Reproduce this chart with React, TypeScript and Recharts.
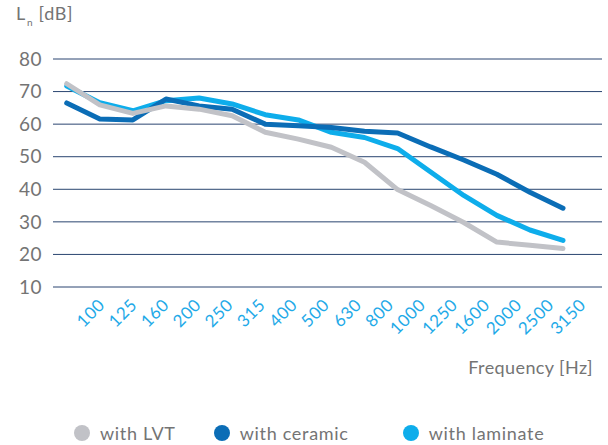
import { LineChart, Line, XAxis, YAxis, CartesianGrid } from "recharts";

const FREQUENCIES = ["100", "125", "160", "200", "250", "315", "400", "500", "630", "800", "1000", "1250", "1600", "2000", "2500", "3150"];
const LVT = [72.4, 65.9, 63.3, 65.6, 64.6, 62.6, 57.5, 55.4, 52.9, 48.3, 39.9, 35.0, 29.8, 23.8, 22.8, 21.8];
const CERAMIC = [66.5, 61.6, 61.3, 67.7, 65.6, 64.6, 60.0, 59.5, 59.0, 57.8, 57.3, 53.0, 49.0, 44.6, 39.1, 34.2];
const LAMINATE = [71.7, 66.6, 64.1, 67.2, 68.0, 66.2, 62.9, 61.3, 57.5, 55.9, 52.5, 45.3, 38.1, 32.0, 27.5, 24.3];
const Y_TICKS = [10, 20, 30, 40, 50, 60, 70, 80];

const SERIES = [
  { key: "lvt", name: "with LVT", color: "#c1c2c7" },
  { key: "ceramic", name: "with ceramic", color: "#0b6db6" },
  { key: "laminate", name: "with laminate", color: "#0eadeb" },
];

const data = FREQUENCIES.map((freq, i) => ({
  freq,
  lvt: LVT[i],
  ceramic: CERAMIC[i],
  laminate: LAMINATE[i],
}));

const FONT = "Lato, 'Open Sans', sans-serif";
const GREY_TEXT = "#747474";

function FreqTick({ x, y, payload }: any) {
  const ty = y + 11;
  return (
    <text
      x={x}
      y={ty}
      transform={`rotate(-45 ${x} ${ty})`}
      textAnchor="end"
      fill="#1faae8"
      fontSize={17}
      letterSpacing={0.6}
      fontFamily={FONT}
    >
      {payload.value}
    </text>
  );
}

export default function App() {
  // draw order: laminate under ceramic under LVT
  const drawOrder = ["laminate", "ceramic", "lvt"].map((k) => SERIES.find((s) => s.key === k)!);

  return (
    <div style={{ position: "absolute", left: 0, top: 0, width: 608, height: 445, fontFamily: FONT, color: GREY_TEXT, letterSpacing: 0.7 }}>
      <LineChart width={608} height={445} data={data} margin={{ top: 59, right: 6, bottom: 0, left: 0 }}>
        <CartesianGrid vertical={false} stroke="#2a4570" strokeWidth={1} />
        <XAxis dataKey="freq" hide height={0} padding={{ left: 13.7, right: 39 }} />
        <XAxis
          xAxisId="labels"
          dataKey="freq"
          height={158}
          axisLine={false}
          tickLine={false}
          interval={0}
          padding={{ left: 53, right: 15 }}
          tick={<FreqTick />}
        />
        <YAxis
          width={53}
          domain={[10, 80]}
          ticks={Y_TICKS}
          axisLine={false}
          tickLine={false}
          tickMargin={5}
          tick={{ fill: GREY_TEXT, fontSize: 19, fontFamily: FONT, letterSpacing: 0.5 }}
        />
        {drawOrder.map((s) => (
          <Line
            key={s.key}
            dataKey={s.key}
            name={s.name}
            type="linear"
            stroke={s.color}
            strokeWidth={5}
            strokeLinecap="round"
            strokeLinejoin="round"
            dot={false}
            activeDot={false}
            isAnimationActive={false}
          />
        ))}
      </LineChart>

      <div style={{ position: "absolute", left: 16, top: 3, fontSize: 18, lineHeight: "20px", whiteSpace: "nowrap" }}>
        L<span style={{ fontSize: 10, position: "relative", top: 6, marginLeft: 1 }}>n</span> [dB]
      </div>

      <div style={{ position: "absolute", right: 15, top: 356, fontSize: 18, lineHeight: "22px", whiteSpace: "nowrap", letterSpacing: 0.4 }}>
        Frequency [Hz]
      </div>

      <div style={{ position: "absolute", left: 74, top: 422, display: "flex", alignItems: "center", fontSize: 18, lineHeight: "22px", whiteSpace: "nowrap" }}>
        {SERIES.map((s, i) => (
          <div key={s.key} style={{ display: "flex", alignItems: "center", marginRight: i === 0 ? 38 : 54 }}>
            <span style={{ width: 16, height: 16, borderRadius: 8, background: s.color, display: "inline-block", marginRight: 10 }} />
            <span>{s.name}</span>
          </div>
        ))}
      </div>
    </div>
  );
}
